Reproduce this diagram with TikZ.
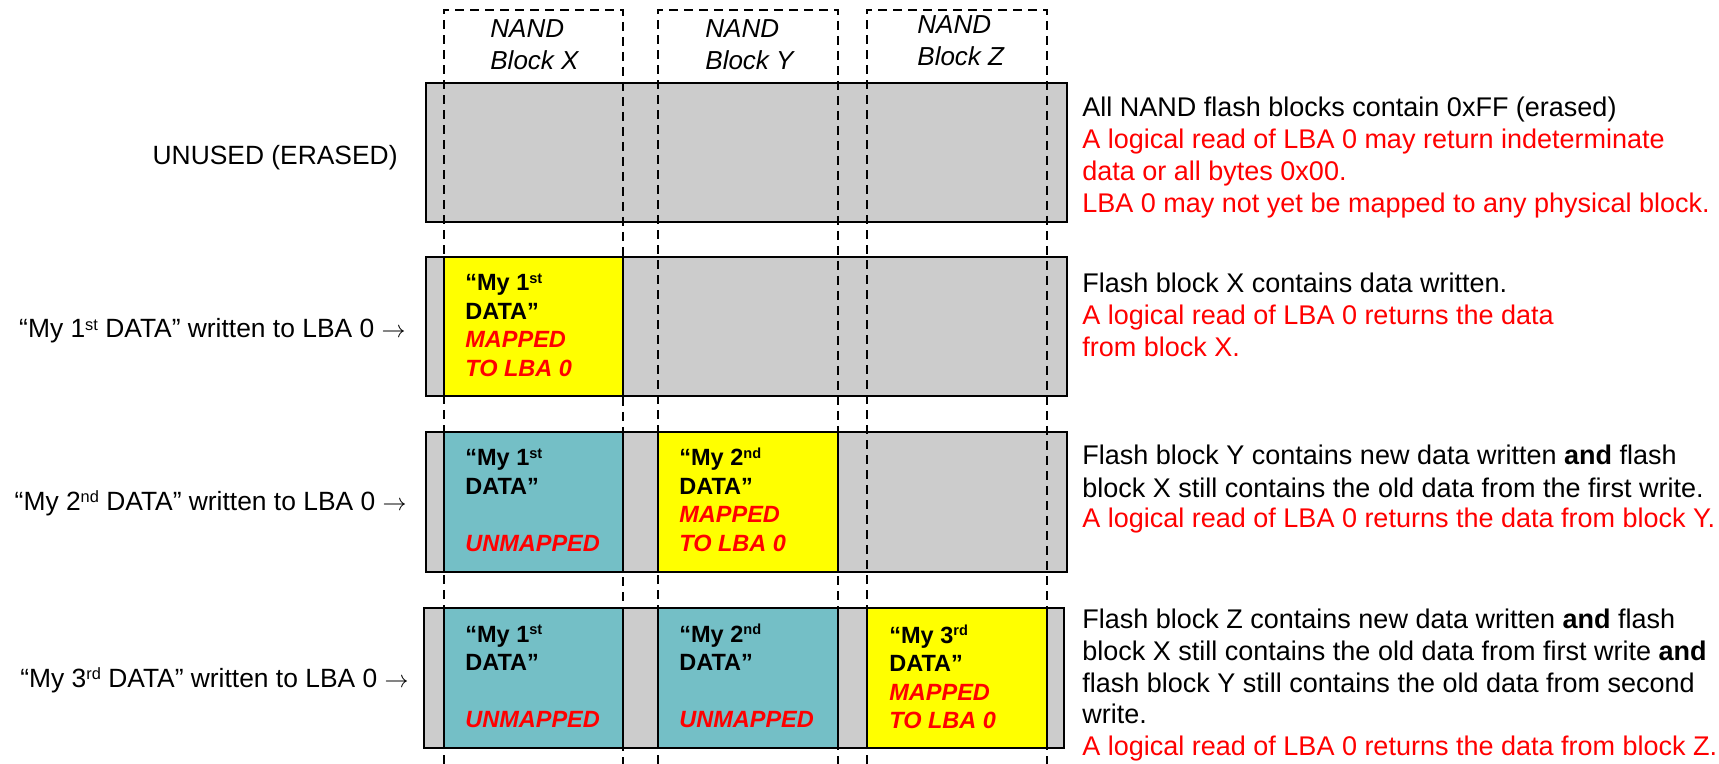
\documentclass[tikz,border=0pt]{standalone}
\usepackage{fontspec}
\setmainfont{Liberation Sans}
\definecolor{grayfill}{RGB}{204,204,204}
\definecolor{tealfill}{RGB}{116,191,198}
\definecolor{redtxt}{RGB}{255,0,0}
\definecolor{yelfill}{RGB}{255,255,0}
\newcommand\supx[1]{\raisebox{0.3em}{\scalebox{0.62}{#1}}}
\newcommand\rarr{$\rightarrow$}
\tikzset{
  lbl/.style={inner sep=0pt, font=\fontsize{13.5}{16}\selectfont},
  rlbl/.style={lbl, anchor=base west},
  llbl/.style={inner sep=0pt, anchor=base east, font=\fontsize{13.2}{16}\selectfont},
  red/.style={text=redtxt},
  blk/.style={inner sep=0pt, anchor=base west, font=\fontsize{11.75}{14}\selectfont\bfseries},
  blkred/.style={blk, text=redtxt, font=\fontsize{11.75}{14}\selectfont\bfseries\itshape},
  hdr/.style={inner sep=0pt, anchor=base west, font=\fontsize{13}{15}\selectfont\itshape},
  rowbox/.style={draw=black, line width=1pt, fill=grayfill},
  cellY/.style={draw=black, line width=0.6pt, fill=yelfill},
  cellT/.style={draw=black, line width=0.6pt, fill=tealfill},
  colline/.style={line width=1.2pt, dash pattern=on 4.5pt off 3pt},
}
\begin{document}
\begin{tikzpicture}[x=0.5pt, y=-0.5pt]
\useasboundingbox (0,0) rectangle (1719,764);
% rows
\draw[rowbox] (426,83) rectangle (1067,222);
\draw[rowbox] (426,257) rectangle (1067,396);
\draw[rowbox] (426,432) rectangle (1067,572);
\draw[rowbox] (424,608) rectangle (1064,748);
% cells
\draw[cellY] (444,257) rectangle (623,396);
\draw[cellT] (444,432) rectangle (623,572);
\draw[cellY] (658,432) rectangle (838,572);
\draw[cellT] (444,608) rectangle (623,748);
\draw[cellT] (658,608) rectangle (838,748);
\draw[cellY] (867,608) rectangle (1047,748);
% dashed columns
\coordinate (xa) at (444,764); \coordinate (xb) at (623,764);
\coordinate (ya) at (658,764); \coordinate (yb) at (838,764);
\coordinate (za) at (867,764); \coordinate (zb) at (1047,764);
\draw[colline] (xa) -- (444,10) -- (623,10) -- (xb);
\draw[colline] (ya) -- (658,10) -- (838,10) -- (yb);
\draw[colline] (za) -- (867,10) -- (1047,10) -- (zb);
% headers
\node[hdr] (hx1) at (490,38) {NAND};
\node[hdr] (hx2) at (490,70) {Block X};
\node[hdr] (hy1) at (705,38) {NAND};
\node[hdr] (hy2) at (705,70) {Block Y};
\node[hdr] (hz1) at (917,34) {NAND};
\node[hdr] (hz2) at (917,66) {Block Z};
% left labels
\node[llbl] (l1) at (398,165) {UNUSED (ERASED)};
\node[llbl] (l2) at (406,338) {“My 1\supx{st} DATA” written to LBA 0 \rarr};
\node[llbl] (l3) at (407,510) {“My 2\supx{nd} DATA” written to LBA 0 \rarr};
\node[llbl] (l4) at (409,687) {“My 3\supx{rd} DATA” written to LBA 0 \rarr};
% block texts row 2
\node[blk] (b2x1) at (465,291) {“My 1\supx{st}};
\node[blk] (b2x2) at (465,319.5) {DATA”};
\node[blkred] (b2x3) at (465,348) {MAPPED};
\node[blkred] (b2x4) at (465,376.5) {TO LBA 0};
% row 3
\node[blk] (b3x1) at (465,466) {“My 1\supx{st}};
\node[blk] (b3x2) at (465,494.5) {DATA”};
\node[blkred] (b3x4) at (465,551.5) {UNMAPPED};
\node[blk] (b3y1) at (679,466) {“My 2\supx{nd}};
\node[blk] (b3y2) at (679,494.5) {DATA”};
\node[blkred] (b3y3) at (679,523) {MAPPED};
\node[blkred] (b3y4) at (679,551.5) {TO LBA 0};
% row 4
\node[blk] (b4x1) at (465,642) {“My 1\supx{st}};
\node[blk] (b4x2) at (465,670.5) {DATA”};
\node[blkred] (b4x4) at (465,727.5) {UNMAPPED};
\node[blk] (b4y1) at (679,642) {“My 2\supx{nd}};
\node[blk] (b4y2) at (679,670.5) {DATA”};
\node[blkred] (b4y4) at (679,727.5) {UNMAPPED};
\node[blk] (b4z1) at (889,643) {“My 3\supx{rd}};
\node[blk] (b4z2) at (889,671.5) {DATA”};
\node[blkred] (b4z3) at (889,700) {MAPPED};
\node[blkred] (b4z4) at (889,728.5) {TO LBA 0};
% right texts
\node[rlbl] (r11) at (1082,117) {All NAND flash blocks contain 0xFF (erased)};
\node[rlbl,red] (r12) at (1082,149) {A logical read of LBA 0 may return indeterminate};
\node[rlbl,red] (r13) at (1082,181) {data or all bytes 0x00.};
\node[rlbl,red] (r14) at (1082,213) {LBA 0 may not yet be mapped to any physical block.};
\node[rlbl] (r21) at (1082,293) {Flash block X contains data written.};
\node[rlbl,red] (r22) at (1082,325) {A logical read of LBA 0 returns the data};
\node[rlbl,red] (r23) at (1082,357) {from block X.};
\node[rlbl] (r31) at (1082,465) {Flash block Y contains new data written \textbf{and} flash};
\node[rlbl] (r32) at (1082,497) {block X still contains the old data from the first write.};
\node[rlbl,red] (r33) at (1082,528) {A logical read of LBA 0 returns the data from block Y.};
\node[rlbl] (r41) at (1082,628) {Flash block Z contains new data written \textbf{and} flash};
\node[rlbl] (r42) at (1082,660) {block X still contains the old data from first write \textbf{and}};
\node[rlbl] (r43) at (1082,692) {flash block Y still contains the old data from second};
\node[rlbl] (r44) at (1082,723) {write.};
\node[rlbl,red] (r45) at (1082,755) {A logical read of LBA 0 returns the data from block Z.};
\end{tikzpicture}
\end{document}
